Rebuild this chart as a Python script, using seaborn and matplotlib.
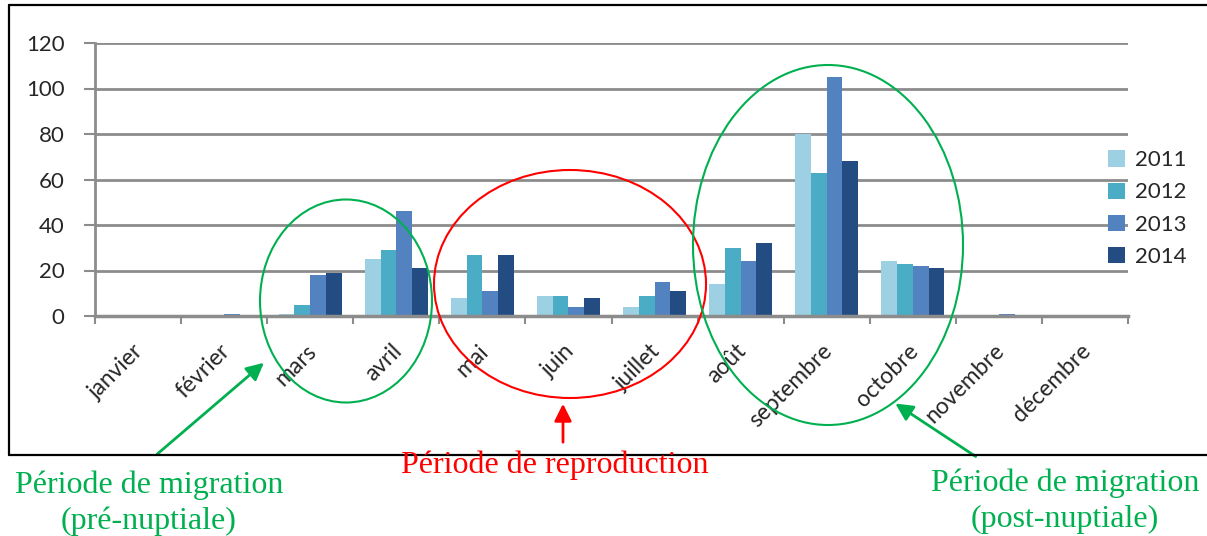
import numpy as np
import pandas as pd
import matplotlib
matplotlib.use('Agg')
import matplotlib.pyplot as plt
import matplotlib.transforms as mtrans
import seaborn as sns
from matplotlib.patches import Ellipse, FancyArrowPatch
from matplotlib.lines import Line2D

months = ['janvier', 'février', 'mars', 'avril', 'mai', 'juin', 'juillet',
          'août', 'septembre', 'octobre', 'novembre', 'décembre']
years = ['2011', '2012', '2013', '2014']
v2011 = [0, 0, 1, 25, 8, 9, 4, 14, 80, 24, 0, 0]
v2012 = [0, 0, 5, 29, 27, 9, 9, 30, 63, 23, 0, 0]
v2013 = [0, 1, 18, 46, 11, 4, 15, 24, 105, 22, 1, 0]
v2014 = [0, 0, 19, 21, 27, 8, 11, 32, 68, 21, 0, 0]
colors = ['#9dd0e2', '#4bacc6', '#5283c0', '#234d82']

df = pd.DataFrame({'mois': months * 4,
                   'annee': np.repeat(years, 12),
                   'n': v2011 + v2012 + v2013 + v2014})

sns.set_style('white')
plt.rcParams['font.family'] = ['Lato', 'DejaVu Sans']

W, H = 1207, 536
fig = plt.figure(figsize=(W / 100, H / 100), dpi=100)

def fx(px):
    return px / W

def fy(py):
    return 1 - py / H

ax = fig.add_axes([fx(95), fy(316), fx(1128) - fx(95), fy(43) - fy(316)])
sns.barplot(data=df, x='mois', y='n', hue='annee', palette=colors,
            width=0.73, saturation=1, ax=ax, edgecolor='none')

ax.set_ylim(0, 120)
ax.set_xlim(-0.5, 11.5)
ax.set_yticks(range(0, 121, 20))
ax.yaxis.grid(True, color='#8c8c8c', lw=2)
ax.set_axisbelow(True)
for s in ['top', 'right']:
    ax.spines[s].set_visible(False)
ax.spines['left'].set_color('#8c8c8c')
ax.spines['left'].set_linewidth(2)
ax.spines['bottom'].set_color('#8c8c8c')
ax.spines['bottom'].set_linewidth(2.5)
ax.tick_params(axis='y', left=True, length=8, width=1.5, color='#8c8c8c',
               labelsize=16, pad=14)
ax.set_xticks(np.arange(-0.5, 12, 1), minor=True)
ax.tick_params(axis='x', which='minor', bottom=True, length=6, width=1.5,
               color='#8c8c8c')
ax.tick_params(axis='x', which='major', bottom=False, labelsize=16.5, pad=14)
shift = mtrans.ScaledTranslation(-5 / 100, 0, fig.dpi_scale_trans)
for lab in ax.get_xticklabels():
    lab.set_rotation(45)
    lab.set_ha('right')
    lab.set_rotation_mode('anchor')
    lab.set_transform(lab.get_transform() + shift)
ax.set_xlabel('')
ax.set_ylabel('')

ax.legend(loc='upper left', bbox_to_anchor=(0.972, 0.64), frameon=False,
          fontsize=16, handlelength=0.75, handleheight=0.75,
          handletextpad=0.45, labelspacing=0.55, borderaxespad=0)

# cadre (ouvert à droite)
for xs, ys in [([9, 9], [5, 455]), ([9, W], [5, 5]), ([9, W], [455, 455])]:
    fig.lines.append(Line2D([fx(x) for x in xs], [fy(y) for y in ys],
                            transform=fig.transFigure, color='black', lw=1.6))

green = '#00b050'
red = '#ff0000'
for cx, cy, w, h, c in [(346, 301, 172, 203, green),
                        (570, 284, 272, 228, red),
                        (828, 245, 270, 360, green)]:
    fig.patches.append(Ellipse((fx(cx), fy(cy)), fx(w), h / H,
                               transform=fig.transFigure, fill=False,
                               edgecolor=c, lw=1.5))

for (x0, y0, x1, y1, c) in [(155, 456, 266, 361, green),
                            (563, 445, 563, 401, red),
                            (978, 458, 893, 402, green)]:
    fig.patches.append(FancyArrowPatch((fx(x0), fy(y0)), (fx(x1), fy(y1)),
                                       transform=fig.transFigure,
                                       arrowstyle='-|>', mutation_scale=26,
                                       color=c, lw=2))

serif = ['Liberation Serif', 'DejaVu Serif']
fig.text(fx(149), fy(485), 'Période de migration', color=green, fontsize=23,
         family=serif, ha='center', va='center')
fig.text(fx(149), fy(521), '(pré-nuptiale)', color=green, fontsize=23,
         family=serif, ha='center', va='center')
fig.text(fx(555), fy(465), 'Période de reproduction', color=red, fontsize=23,
         family=serif, ha='center', va='center')
fig.text(fx(1065), fy(483), 'Période de migration', color=green, fontsize=23,
         family=serif, ha='center', va='center')
fig.text(fx(1065), fy(519), '(post-nuptiale)', color=green, fontsize=23,
         family=serif, ha='center', va='center')

fig.savefig('out.png', dpi=100)
